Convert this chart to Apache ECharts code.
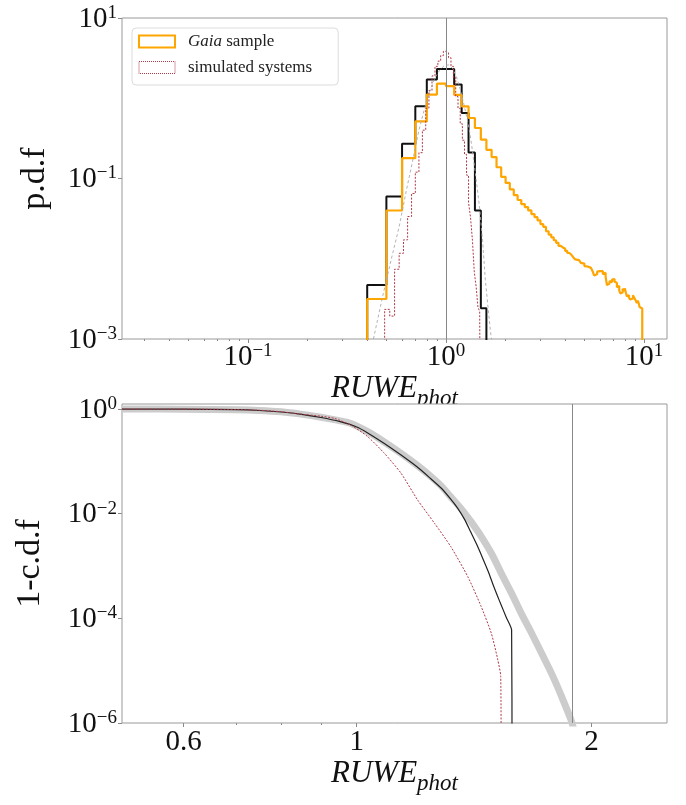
<!DOCTYPE html>
<html>
<head>
<meta charset="utf-8">
<script src="https://cdn.jsdelivr.net/npm/echarts@6/dist/echarts.min.js"></script>
<style>html,body{margin:0;padding:0;background:#fff}#chart{width:686px;height:805px}</style>
</head>
<body>
<div id="chart"></div>
<script>
// ---------- data ----------
const FONT = '"Liberation Serif","DejaVu Serif",serif';

// Gaia sample histogram (orange), linear bins of width 0.1 starting at 0.4
const gaiaBinStart = 0.4;
const gaiaBinWidth = 0.1;
const gaiaPdf = [
  0.00315, 0.0399, 0.179, 0.515, 1.11, 1.52, 1.42, 1.10, 0.79, 0.567,
  0.426, 0.305, 0.228, 0.185, 0.138, 0.105, 0.088, 0.073, 0.062, 0.054,
  0.048, 0.044, 0.040, 0.036, 0.033, 0.030, 0.027, 0.025, 0.022, 0.020,
  0.0185, 0.017, 0.0158, 0.0145, 0.0138, 0.0133, 0.0125, 0.0118,
  0.0112, 0.0108, 0.0104, 0.0098, 0.0096, 0.0092, 0.0089, 0.0087, 0.0081, 0.0080,
  0.0079, 0.0077, 0.0075, 0.0070, 0.0062, 0.0064, 0.0069, 0.0070, 0.0072, 0.0070,
  0.0064, 0.0067, 0.0060, 0.0047, 0.0049, 0.0053, 0.0051, 0.0055, 0.0056, 0.0052,
  0.0050, 0.0044, 0.0046, 0.0040, 0.0037, 0.0038, 0.0042, 0.0040, 0.0043, 0.0038,
  0.0034, 0.0035, 0.0033, 0.0031, 0.0030, 0.0032, 0.0035, 0.0033, 0.0034, 0.0030,
  0.0028, 0.0030, 0.0028, 0.0025, 0.0026, 0.0024
];

// black histogram, bins of width 0.1 starting at 0.4
const blackBinStart = 0.4;
const blackBinWidth = 0.1;
const blackPdf = [0.00471, 0.0596, 0.271, 0.793, 1.71, 2.32, 2.32, 1.48, 0.655, 0.211, 0.0399, 0.00241];

// simulated systems histogram (red dotted), bins of width 0.03 starting at 0.49
const simBinStart = 0.49;
const simBinWidth = 0.03;
const simPdf = [
  0.00234, 0.00193, 0.0074, 0.0117, 0.0172, 0.0336, 0.065, 0.12, 0.21, 0.40,
  0.75, 1.25, 1.9, 2.5, 2.9, 3.4, 3.85, 3.7, 3.2, 2.5,
  1.8, 1.05, 0.75, 0.48, 0.30, 0.20, 0.11, 0.05, 0.033, 0.017,
  0.0068, 0.0045, 0.0025, 0.0022
];

// thin grey dashed reference curve (top panel)
const refX = [0.43,0.48,0.53,0.58,0.63,0.68,0.73,0.78,0.83,0.88,0.93,0.98,1.03,1.08,1.13,1.18,1.23,1.28,1.33,1.38,1.43,1.48,1.53,1.58,1.63,1.68,1.71];
const refY = [0.001,0.0035,0.010,0.025,0.07,0.17,0.40,0.75,1.25,1.8,2.25,2.55,2.6,2.35,1.85,1.3,0.85,0.55,0.33,0.17,0.085,0.042,0.017,0.0055,0.0025,0.0012,0.0009];

// bottom panel: 1 - c.d.f curves
const ccdfGreyX = [0.5,0.6,0.7,0.75,0.8,0.848,0.9,0.95,0.983,1.033,1.085,1.14,1.197,1.24,1.283,1.32,1.361,1.40,1.444,1.49,1.532,1.58,1.625,1.675,1.725,1.78,1.83,1.885,1.9];
const ccdfGreyY = [1.0,0.995,0.97,0.94,0.885,0.80,0.70,0.60,0.53,0.37,0.235,0.142,0.083,0.054,0.034,0.021,0.0125,0.0072,0.0037,0.0017,0.00073,0.0003,0.000126,0.000053,0.000022,0.0000085,0.0000033,0.0000011,0.0000007];
const ccdfBlackX = [0.5,0.6,0.7,0.75,0.8,0.85,0.9,0.95,1.0,1.033,1.085,1.14,1.197,1.24,1.283,1.32,1.347,1.375,1.40,1.425,1.451,1.475,1.495,1.515,1.532,1.555,1.58,1.582];
const ccdfBlackY = [1.0,0.996,0.972,0.94,0.88,0.795,0.69,0.58,0.455,0.35,0.22,0.132,0.077,0.049,0.031,0.019,0.0128,0.0078,0.0045,0.0026,0.0014,0.00078,0.00045,0.00027,0.00018,0.000105,0.00006,0.0000001];
const ccdfSimX = [0.5,0.6,0.7,0.75,0.8,0.848,0.9,0.936,0.983,1.033,1.085,1.14,1.197,1.258,1.32,1.388,1.444,1.488,1.517,1.53,1.532];
const ccdfSimY = [1.0,0.998,0.98,0.95,0.89,0.80,0.73,0.664,0.495,0.297,0.143,0.0593,0.0183,0.0066,0.00236,0.00063,0.000169,0.000052,0.000016,0.0000078,0.0000001];

// reference lines
const topRefLine = 1;
const bottomRefLine = 1.89;

// ticks
const topXTicks = [0.1, 1, 10];
const topXMinor = [0.03,0.04,0.05,0.06,0.07,0.08,0.09,0.2,0.3,0.4,0.5,0.6,0.7,0.8,0.9,2,3,4,5,6,7,8,9];
const topYTicks = [0.001, 0.1, 10];
const bottomXTicks = [0.6, 1, 2];
const bottomXMinor = [0.7, 0.8, 0.9];
const bottomYTicks = [1e-6, 1e-4, 1e-2, 1];

const legendNames = ['Gaia sample', 'simulated systems'];

// ---------- helpers ----------
const FLOOR = 1e-8;
function histSteps(start, width, vals) {
  const edge = i => +(start + i * width).toFixed(4);
  const pts = [[edge(0), FLOOR]];
  vals.forEach((v, i) => { pts.push([edge(i), v], [edge(i + 1), v]); });
  pts.push([edge(vals.length), FLOOR]);
  return pts;
}
const zip = (xs, ys) => xs.map((x, i) => [x, ys[i]]);
function powLabel(v) {
  const e = Math.round(Math.log10(v));
  return '{b|10}{e|' + (e < 0 ? '\u2212' : '') + Math.abs(e) + '}';
}
const tickRich = {
  b: { fontFamily: FONT, fontSize: 29, lineHeight: 29, verticalAlign: 'top', padding: [1, 0, 0, 0], color: '#111' },
  e: { fontFamily: FONT, fontSize: 19, lineHeight: 19, verticalAlign: 'top', color: '#111' }
};
const nameRich = {
  a: { fontFamily: FONT, fontStyle: 'italic', fontSize: 31, lineHeight: 31, verticalAlign: 'top', color: '#111' },
  s: { fontFamily: FONT, fontStyle: 'italic', fontSize: 23, lineHeight: 23, verticalAlign: 'top', padding: [15, 0, 0, 0], color: '#111' }
};
const tickLine = { color: '#888', width: 1 };

const chart = echarts.init(document.getElementById('chart'), null, { renderer: 'canvas' });
chart.setOption({
  animation: false,
  backgroundColor: '#fff',
  grid: [
    { left: 122, top: 18, width: 545, height: 321, show: true, borderColor: '#999', borderWidth: 1, backgroundColor: '#fff' },
    { left: 122, top: 404, width: 545, height: 319, show: true, borderColor: '#999', borderWidth: 1, backgroundColor: '#fff', z: 1 }
  ],
  legend: {
    data: [
      { name: legendNames[0], icon: 'rect', itemStyle: { color: 'rgba(0,0,0,0)', borderColor: '#ffa500', borderWidth: 2 } },
      { name: legendNames[1], icon: 'rect', itemStyle: { color: 'rgba(0,0,0,0)', borderColor: '#b03a48', borderWidth: 1, borderType: 'dotted' } }
    ],
    orient: 'vertical',
    left: 132, top: 28,
    itemWidth: 36, itemHeight: 12, itemGap: 9,
    padding: [5, 26, 9, 6],
    borderColor: '#dcdcdc', borderWidth: 1, borderRadius: 4,
    backgroundColor: 'rgba(255,255,255,0.85)',
    selectedMode: false,
    formatter: n => n === legendNames[0] ? '{gi|Gaia}{n| sample}' : '{g|' + n + '}',
    textStyle: {
      fontFamily: FONT, fontSize: 17, color: '#222',
      rich: {
        gi: { fontFamily: FONT, fontStyle: 'italic', fontSize: 17, color: '#222', padding: [0, 0, 0, 8] },
        n: { fontFamily: FONT, fontSize: 17, color: '#222' },
        g: { fontFamily: FONT, fontSize: 17, color: '#222', padding: [0, 0, 0, 8] }
      }
    }
  },
  xAxis: [
    {
      gridIndex: 0, type: 'log', logBase: 10, min: 0.0231, max: 13.07, position: 'bottom', z: -1,
      axisLine: { show: false },
      axisTick: { show: true, length: 4, lineStyle: tickLine, customValues: topXTicks },
      axisLabel: { customValues: topXTicks, formatter: powLabel, margin: 3, rich: tickRich },
      splitLine: { show: false },
      name: '{a|RUWE}{s|phot}', nameLocation: 'middle', nameGap: 31,
      nameTextStyle: { rich: nameRich }
    },
    {
      gridIndex: 1, type: 'log', logBase: 10, min: 0.5, max: 2.5, position: 'bottom',
      axisLine: { show: false },
      axisTick: { show: true, length: 4, lineStyle: tickLine, customValues: bottomXTicks },
      axisLabel: { customValues: bottomXTicks, formatter: v => String(+v.toFixed(2)), margin: 5,
        fontFamily: FONT, fontSize: 29, color: '#111' },
      splitLine: { show: false },
      name: '{a|RUWE}{s|phot}', nameLocation: 'middle', nameGap: 31,
      nameTextStyle: { rich: nameRich }
    },
    {
      gridIndex: 0, type: 'log', logBase: 10, min: 0.0231, max: 13.07, position: 'bottom', z: -1,
      axisLine: { show: false }, axisLabel: { show: false }, splitLine: { show: false },
      axisTick: { show: true, length: 2, lineStyle: tickLine, customValues: topXMinor }
    },
    {
      gridIndex: 1, type: 'log', logBase: 10, min: 0.5, max: 2.5, position: 'bottom',
      axisLine: { show: false }, axisLabel: { show: false }, splitLine: { show: false },
      axisTick: { show: true, length: 2, lineStyle: tickLine, customValues: bottomXMinor }
    }
  ],
  yAxis: [
    {
      gridIndex: 0, type: 'log', logBase: 10, min: 0.001, max: 10,
      axisLine: { show: false },
      axisTick: { show: true, length: 4, lineStyle: tickLine, customValues: topYTicks },
      axisLabel: { customValues: topYTicks, formatter: powLabel, margin: 5, rich: tickRich },
      splitLine: { show: false },
      name: 'p.d.f', nameLocation: 'middle', nameGap: 70, nameRotate: 90,
      nameTextStyle: { fontFamily: FONT, fontSize: 34, color: '#111' }
    },
    {
      gridIndex: 1, type: 'log', logBase: 10, min: 1e-6, max: 1.25,
      axisLine: { show: false },
      axisTick: { show: true, length: 4, lineStyle: tickLine, customValues: bottomYTicks },
      axisLabel: { customValues: bottomYTicks, formatter: powLabel, margin: 5, rich: tickRich },
      splitLine: { show: false },
      name: '1-c.d.f', nameLocation: 'middle', nameGap: 75, nameRotate: 90,
      nameTextStyle: { fontFamily: FONT, fontSize: 34, color: '#111' }
    }
  ],
  series: [
    {
      name: 'model', type: 'line', xAxisIndex: 0, yAxisIndex: 0, showSymbol: false, clip: true,
      data: histSteps(blackBinStart, blackBinWidth, blackPdf),
      lineStyle: { color: '#111', width: 2 }, itemStyle: { color: '#111' }, z: 2,
      markLine: { silent: true, symbol: 'none', label: { show: false },
        lineStyle: { color: '#888', width: 1, type: 'solid' }, data: [{ xAxis: topRefLine }] }
    },
    {
      name: legendNames[0], type: 'line', xAxisIndex: 0, yAxisIndex: 0, showSymbol: false, clip: true,
      data: histSteps(gaiaBinStart, gaiaBinWidth, gaiaPdf),
      lineStyle: { color: '#ffa500', width: 2.2 }, itemStyle: { color: '#ffa500' }, z: 3
    },
    {
      name: legendNames[1], type: 'line', xAxisIndex: 0, yAxisIndex: 0, showSymbol: false, clip: true,
      data: histSteps(simBinStart, simBinWidth, simPdf),
      lineStyle: { color: '#b03a48', width: 1, type: [2, 1.5] }, itemStyle: { color: '#b03a48' }, z: 4
    },
    {
      name: 'reference', type: 'line', xAxisIndex: 0, yAxisIndex: 0, showSymbol: false, clip: true,
      data: zip(refX, refY), smooth: false,
      lineStyle: { color: '#aaaaaa', width: 0.9, type: [3, 2.5] }, z: 5
    },
    {
      name: 'ccdf-grey', type: 'line', xAxisIndex: 1, yAxisIndex: 1, showSymbol: false, clip: true,
      data: zip(ccdfGreyX, ccdfGreyY), smooth: 0.3,
      lineStyle: { color: '#cccccc', width: 7, cap: 'butt' }, z: 2,
      markLine: { silent: true, symbol: 'none', label: { show: false },
        lineStyle: { color: '#888', width: 1, type: 'solid' }, data: [{ xAxis: bottomRefLine }] }
    },
    {
      name: 'ccdf-black', type: 'line', xAxisIndex: 1, yAxisIndex: 1, showSymbol: false, clip: true,
      data: zip(ccdfBlackX, ccdfBlackY), smooth: 0.2,
      lineStyle: { color: '#222', width: 1.2 }, z: 3
    },
    {
      name: 'ccdf-sim', type: 'line', xAxisIndex: 1, yAxisIndex: 1, showSymbol: false, clip: true,
      data: zip(ccdfSimX, ccdfSimY), smooth: 0.2,
      lineStyle: { color: '#b03a48', width: 1, type: [2, 1.5] }, z: 4
    }
  ]
});
</script>
</body>
</html>
